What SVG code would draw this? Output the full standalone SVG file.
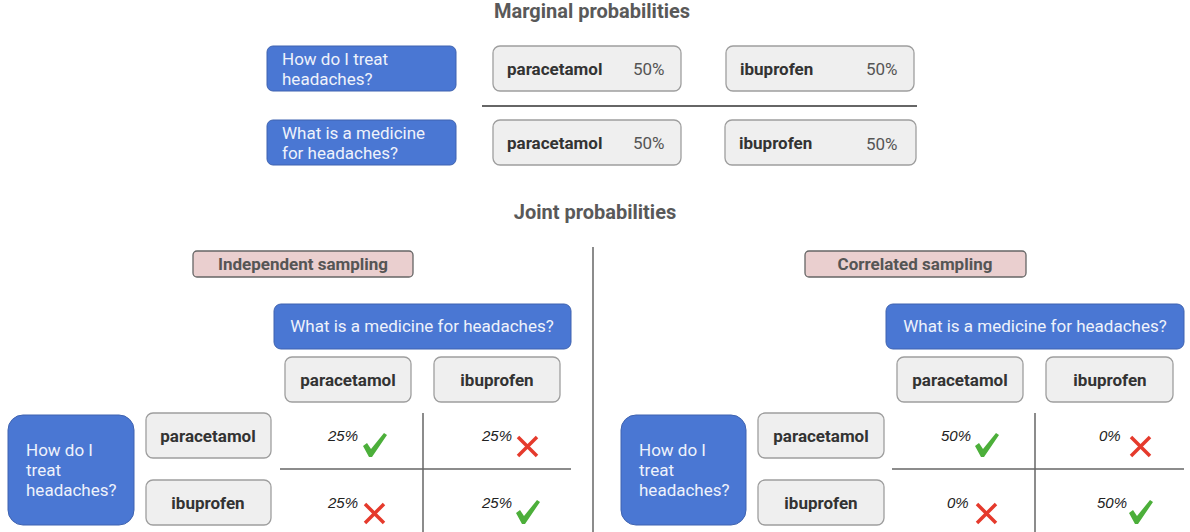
<svg xmlns="http://www.w3.org/2000/svg" width="1190" height="532" viewBox="0 0 1190 532">
<style>
.title{font-family:Roboto,"Liberation Sans",sans-serif;font-weight:bold;font-size:20px;fill:#595959;text-anchor:middle}
.blue{fill:#4a77d3;stroke:#3f63b0;stroke-width:1}
.gray{fill:#efefef;stroke:#9e9e9e;stroke-width:1.3}
.pink{fill:#eacfcf;stroke:#666;stroke-width:1.3}
.qt{font-family:Roboto,"Liberation Sans",sans-serif;font-size:17px;fill:#eef2fb}
.lbl{font-family:Roboto,"Liberation Sans",sans-serif;font-weight:bold;font-size:17px;fill:#333}
.lblc{font-family:Roboto,"Liberation Sans",sans-serif;font-weight:bold;font-size:17px;fill:#333;text-anchor:middle}
.pk{font-family:Roboto,"Liberation Sans",sans-serif;font-weight:bold;font-size:17px;fill:#555;text-anchor:middle}
.p50{font-family:Roboto,"Liberation Sans",sans-serif;font-size:17px;fill:#555}
.pct{font-family:"Liberation Sans",Arial,sans-serif;font-style:italic;font-size:15px;fill:#222}
.line{stroke:#666;stroke-width:2}
.vline{stroke:#666;stroke-width:1.5}
.chk{fill:#4caf3a}
.x{stroke:#e53a2c;stroke-width:3.5;fill:none}
</style>
<defs>
<path id="check" class="chk" d="M0,13 L4,10 L8,16 L21,0 L24,2 L9,24 L6,24 Z"/>
<g id="cross"><path class="x" d="M1,1 L20,20 M20,1 L1,20"/></g>
</defs>

<text class="title" x="592" y="18">Marginal probabilities</text>

<g id="m-q1"><rect class="blue" x="267" y="46" width="189" height="45" rx="6"/><text class="qt" x="282" y="65">How do I treat</text><text class="qt" x="282" y="85">headaches?</text></g>
<g id="m-q1-para"><rect class="gray" x="493" y="46" width="188" height="45" rx="7"/><text class="lbl" x="507" y="75">paracetamol</text><text class="p50" x="633" y="75">50%</text></g>
<g id="m-q1-ibu"><rect class="gray" x="726" y="46" width="188" height="45" rx="7"/><text class="lbl" x="740" y="75">ibuprofen</text><text class="p50" x="866" y="75">50%</text></g>
<line class="line" x1="482" y1="106" x2="917" y2="106"/>
<g id="m-q2"><rect class="blue" x="267" y="120" width="189" height="45" rx="6"/><text class="qt" x="282" y="139">What is a medicine</text><text class="qt" x="282" y="159">for headaches?</text></g>
<g id="m-q2-para"><rect class="gray" x="493" y="120" width="188" height="45" rx="7"/><text class="lbl" x="507" y="149">paracetamol</text><text class="p50" x="633" y="149">50%</text></g>
<g id="m-q2-ibu"><rect class="gray" x="725" y="120" width="191" height="45" rx="7"/><text class="lbl" x="739" y="149">ibuprofen</text><text class="p50" x="866" y="150">50%</text></g>

<text class="title" x="595" y="219">Joint probabilities</text>
<line class="vline" x1="593" y1="247" x2="593" y2="532"/>

<g id="independent">
<g id="ind-label"><rect class="pink" x="193" y="251" width="220" height="26" rx="4"/><text class="pk" x="303" y="270">Independent sampling</text></g>
<g id="ind-q2"><rect class="blue" x="274" y="304" width="297" height="45" rx="7"/><text class="qt" x="422" y="332" text-anchor="middle">What is a medicine for headaches?</text></g>
<g id="ind-col-para"><rect class="gray" x="285" y="357" width="126" height="45" rx="7"/><text class="lblc" x="348" y="386">paracetamol</text></g>
<g id="ind-col-ibu"><rect class="gray" x="434" y="357" width="126" height="45" rx="7"/><text class="lblc" x="497" y="386">ibuprofen</text></g>
<g id="ind-q1"><rect class="blue" x="8" y="415" width="126" height="110" rx="15"/><text class="qt" x="26" y="456">How do I</text><text class="qt" x="26" y="476">treat</text><text class="qt" x="26" y="496">headaches?</text></g>
<g id="ind-row-para"><rect class="gray" x="146" y="413" width="125" height="45" rx="7"/><text class="lblc" x="208" y="442">paracetamol</text></g>
<g id="ind-row-ibu"><rect class="gray" x="146" y="480" width="125" height="45" rx="7"/><text class="lblc" x="208" y="509">ibuprofen</text></g>
<line class="vline" x1="280" y1="469" x2="571" y2="469"/>
<line class="vline" x1="423" y1="413" x2="423" y2="532"/>
<text class="pct" x="328" y="441">25%</text><use href="#check" x="363" y="433"/>
<text class="pct" x="482" y="441">25%</text><use href="#cross" x="517" y="436"/>
<text class="pct" x="328" y="508">25%</text><use href="#cross" x="364" y="503"/>
<text class="pct" x="482" y="508">25%</text><use href="#check" x="516" y="500"/>
</g>

<g id="correlated">
<g id="cor-label"><rect class="pink" x="805" y="251" width="221" height="26" rx="4"/><text class="pk" x="915" y="270">Correlated sampling</text></g>
<g id="cor-q2"><rect class="blue" x="886" y="304" width="298" height="45" rx="7"/><text class="qt" x="1035" y="332" text-anchor="middle">What is a medicine for headaches?</text></g>
<g id="cor-col-para"><rect class="gray" x="897" y="357" width="126" height="45" rx="7"/><text class="lblc" x="960" y="386">paracetamol</text></g>
<g id="cor-col-ibu"><rect class="gray" x="1046" y="357" width="127" height="45" rx="7"/><text class="lblc" x="1110" y="386">ibuprofen</text></g>
<g id="cor-q1"><rect class="blue" x="621" y="415" width="125" height="110" rx="15"/><text class="qt" x="639" y="456">How do I</text><text class="qt" x="639" y="476">treat</text><text class="qt" x="639" y="496">headaches?</text></g>
<g id="cor-row-para"><rect class="gray" x="758" y="413" width="126" height="45" rx="7"/><text class="lblc" x="821" y="442">paracetamol</text></g>
<g id="cor-row-ibu"><rect class="gray" x="758" y="480" width="126" height="45" rx="7"/><text class="lblc" x="821" y="509">ibuprofen</text></g>
<line class="vline" x1="892" y1="469" x2="1184" y2="469"/>
<line class="vline" x1="1035" y1="413" x2="1035" y2="532"/>
<text class="pct" x="941" y="441">50%</text><use href="#check" x="975" y="433"/>
<text class="pct" x="1099" y="441">0%</text><use href="#cross" x="1130" y="436"/>
<text class="pct" x="947" y="508">0%</text><use href="#cross" x="976" y="503"/>
<text class="pct" x="1097" y="508">50%</text><use href="#check" x="1129" y="500"/>
</g>
</svg>
